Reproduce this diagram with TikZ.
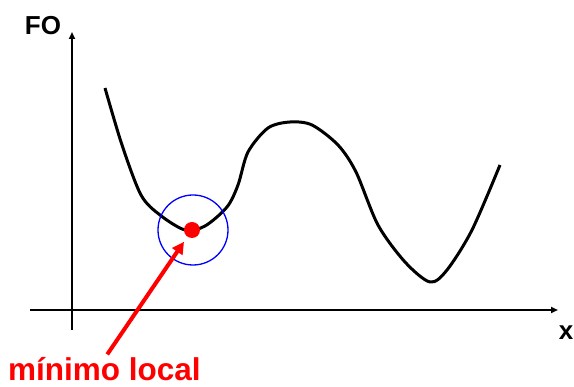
\documentclass[tikz,border=0pt]{standalone}
\usepackage{fontspec}
\setmainfont{Liberation Sans}
\usetikzlibrary{arrows.meta}
\begin{document}
\begin{tikzpicture}[x=1pt,y=-1pt,
  axis/.style={line width=2pt,-{Triangle[length=7pt,width=6pt]}},
  curve/.style={line width=3pt,line join=round},
  lbl/.style={font=\bfseries\fontsize{26}{29}\selectfont,inner sep=0pt}]
\useasboundingbox (0,0) rectangle (574,387);
% axes
\coordinate (yb) at (72,330);
\coordinate (yt) at (72,32);
\coordinate (xl) at (30,310);
\coordinate (xr) at (558,310);
\draw[axis] (yb) -- (yt);
\draw[axis] (xl) -- (xr);
\node[lbl,anchor=base] (fo) at (43,35) {FO};
\node[lbl,anchor=base] (xlab) at (566,340) {x};
% curve
\draw[curve] plot[smooth,tension=0.5] coordinates {
 (105,88) (122,145) (141,195) (160,215) (185,230) (205,226) (227,207)
 (238,185) (248,152) (268,128) (290,122) (312,125) (338,145) (356,172)
 (378,225) (405,262) (430,282) (447,270) (472,230) (500,165)};
% neighbourhood circle and point
\node[draw=blue,line width=1.3pt,circle,minimum size=70pt,inner sep=0pt] (nb) at (193,230) {};
\node[fill=red,circle,minimum size=16pt,inner sep=0pt] (dot) at (192,230) {};
% label and arrow
\node[lbl,text=red,font=\bfseries\fontsize{31.5}{35}\selectfont,anchor=base west] (ml) at (8,381) {mínimo local};
\draw[red,line width=4pt,-{Triangle[length=12pt,width=12pt]},shorten <=4pt,shorten >=6pt] (ml.north -| 105,0) -- (dot);
\end{tikzpicture}
\end{document}
